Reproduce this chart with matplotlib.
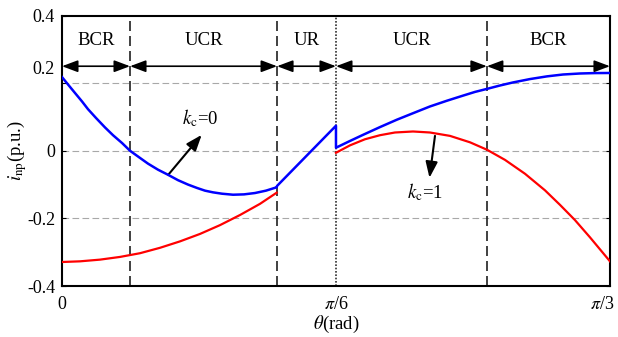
import matplotlib
matplotlib.use("Agg")
import matplotlib.pyplot as plt
import numpy as np
from matplotlib.transforms import ScaledTranslation

plt.rcParams['font.family'] = ['Liberation Serif', 'DejaVu Serif']
plt.rcParams['mathtext.fontset'] = 'stix'

# i_np for k_c = 0 (theta in rad, current in p.u.)
blue_theta = [0.0, 0.0115, 0.0248, 0.0382, 0.0497, 0.0650, 0.0822, 0.0975,
              0.1147, 0.1300, 0.1471, 0.1643, 0.1835, 0.2026, 0.2217, 0.2408,
              0.2580, 0.2733, 0.2886, 0.3058, 0.3268, 0.3478, 0.3688, 0.3898,
              0.4103,
              0.4110, 0.5236, 0.5236,
              0.5504, 0.5752, 0.6077, 0.6402, 0.6708, 0.7032, 0.7357, 0.7663,
              0.7892, 0.8122, 0.8370, 0.8618, 0.8943, 0.9268, 0.9574, 0.9899,
              1.0186, 1.0472]
blue_i = [0.218, 0.196, 0.171, 0.146, 0.123, 0.097, 0.069, 0.046,
          0.023, 0.0, -0.019, -0.038, -0.056, -0.071, -0.087, -0.100,
          -0.110, -0.118, -0.123, -0.127, -0.130, -0.129, -0.125, -0.118,
          -0.108,
          -0.104, 0.074, 0.009,
          0.029, 0.047, 0.070, 0.092, 0.111, 0.131, 0.148, 0.163,
          0.174, 0.183, 0.193, 0.202, 0.212, 0.220, 0.2255, 0.2285,
          0.2297, 0.230]

# i_np for k_c = 1 (NaN breaks the curve inside UR)
red_theta = [0.0, 0.0344, 0.0726, 0.1108, 0.1491, 0.1873, 0.2255, 0.2637,
             0.3019, 0.3402, 0.3784, 0.4103, np.nan,
             0.5236, 0.5504, 0.5790, 0.6077, 0.6363, 0.6708, 0.7032, 0.7415,
             0.7797, 0.8122, 0.8466, 0.8848, 0.9230, 0.9517, 0.9803, 1.0090,
             1.0472]
red_i = [-0.329, -0.327, -0.322, -0.314, -0.303, -0.287, -0.268, -0.246,
         -0.220, -0.190, -0.157, -0.124, np.nan,
         -0.006, 0.016, 0.034, 0.046, 0.054, 0.057, 0.054, 0.044,
         0.025, 0.003, -0.027, -0.068, -0.117, -0.160, -0.205, -0.256,
         -0.327]

# operating regions
bounds = [0.0, 0.130, 0.411, np.pi / 6, 0.812, np.pi / 3]
regions = ['BCR', 'UCR', 'UR', 'UCR', 'BCR']

yticks = [-0.4, -0.2, 0, 0.2, 0.4]
yticklabels = ['-0.4', '-0.2', '0', '0.2', '0.4']
xticks = [0, np.pi / 6, np.pi / 3]
xticklabels = ['0', r'$\pi$/6', r'$\pi$/3']

fig = plt.figure(figsize=(6.18, 3.37), dpi=100)
ax = fig.add_axes([0.1003, 0.1513, 0.8867, 0.8027])

# horizontal grid
for yv in [0.2, 0, -0.2]:
    ax.axhline(yv, color='#a8a8a8', lw=0.8, ls=(0, (6, 3)), zorder=1)

# region boundaries
for b in [bounds[1], bounds[2], bounds[4]]:
    ax.axvline(b, color='#202020', lw=1.2, ls=(0, (6, 3)), zorder=2)
ax.axvline(bounds[3], color='#303030', lw=1.2, ls=(0, (1, 1)), zorder=2)

ax.plot(red_theta, red_i, color='red', lw=1.6, zorder=3)
ax.plot(blue_theta, blue_i, color='blue', lw=1.8, zorder=4)

# region arrows and names
arrow_y = 0.25
for a, b, name in zip(bounds[:-1], bounds[1:], regions):
    ax.annotate('', xy=(b, arrow_y), xytext=(a, arrow_y),
                arrowprops=dict(arrowstyle='<|-|>,head_length=0.8,head_width=0.3',
                                mutation_scale=12, color='black', lw=1.2,
                                shrinkA=0, shrinkB=0), zorder=5)
    ax.text((a + b) / 2, 0.325, name, ha='center', va='center', fontsize=13.5)

# curve labels
ax.annotate('', xy=(0.267, 0.047), xytext=(0.2031, -0.071),
            arrowprops=dict(arrowstyle='-|>,head_length=0.8,head_width=0.3',
                            mutation_scale=12, color='black', lw=1.5,
                            shrinkA=0, shrinkB=0))
ax.text(0.2637, 0.095, r'$k_{\mathrm{c}}$=0', ha='center', va='center', fontsize=13.5)
ax.annotate('', xy=(0.7023, -0.080), xytext=(0.7128, 0.044),
            arrowprops=dict(arrowstyle='-|>,head_length=0.8,head_width=0.3',
                            mutation_scale=12, color='black', lw=1.5,
                            shrinkA=0, shrinkB=0))
ax.text(0.6927, -0.121, r'$k_{\mathrm{c}}$=1', ha='center', va='center', fontsize=13.5)

ax.set_xlim(0, np.pi / 3)
ax.set_ylim(-0.4, 0.4)
ax.set_xticks(xticks)
ax.set_xticklabels(xticklabels, fontsize=13)
ax.set_yticks(yticks)
ax.set_yticklabels(yticklabels, fontsize=13)
ax.tick_params(axis='x', length=0, pad=7)
ax.tick_params(axis='y', direction='in', length=3, right=True, pad=5)

# the 0.2 label sits a bit higher, level with the region arrows
lbl = ax.get_yticklabels()[3]
lbl.set_transform(lbl.get_transform() + ScaledTranslation(0, 0.16, fig.dpi_scale_trans))
# keep pi/3 inside the figure
lbl = ax.get_xticklabels()[2]
lbl.set_transform(lbl.get_transform() + ScaledTranslation(-0.08, 0, fig.dpi_scale_trans))

for s in ax.spines.values():
    s.set_linewidth(1.5)

ax.set_xlabel(r'$\theta$(rad)', fontsize=13.5, labelpad=1)
ax.set_ylabel(r'$i_{\mathrm{np}}$(p.u.)', fontsize=13.5)
ax.yaxis.set_label_coords(-0.060, 0.5)

fig.savefig('out.png', dpi=100)
